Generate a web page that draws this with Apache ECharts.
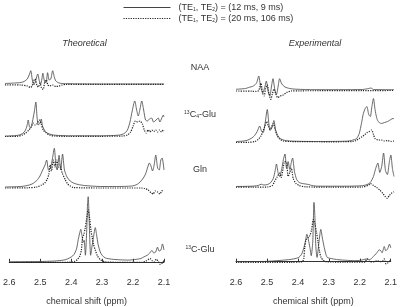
<!DOCTYPE html>
<html>
<head>
<meta charset="utf-8">
<script src="https://cdn.jsdelivr.net/npm/echarts@6/dist/echarts.min.js"></script>
<style>
  html, body { margin: 0; background: #fff; }
  #chart { width: 400px; height: 307px; }
</style>
</head>
<body>
<div id="chart"></div>
<script>
// series names (legend)
const shortName = 'short';
const longName = 'long';
const legendText = {
  short: '(TE{s|1}, TE{s|2}) = (12 ms, 9 ms)',
  long: '(TE{s|1}, TE{s|2}) = (20 ms, 106 ms)'
};
const panelTitles = ['Theoretical', 'Experimental'];
const rowLabels = ['NAA', '{sup|13}C{sub|4}-Glu', 'Gln', '{sup|13}C-Glu'];
const ppmRange = [2.1, 2.6];

// [ppm, intensity] (arbitrary units, baseline = 0)
const naaTheoShort = [[2.6,0.5],[2.57,1],[2.55,1.5],[2.54,2.5],[2.53,5],[2.524,9],[2.519,13.3],[2.514,4],[2.509,-1],[2.504,3],[2.497,10],[2.492,3],[2.488,0],[2.484,5],[2.481,10.7],[2.476,3],[2.471,1],[2.466,11.3],[2.461,4],[2.456,5],[2.45,13.3],[2.445,7],[2.44,3],[2.43,1],[2.41,0.3],[2.3,0],[2.1,0]];
const naaTheoLong = [[2.6,-0.8],[2.55,-1],[2.53,-2],[2.52,-3.5],[2.515,-2],[2.51,3],[2.505,5],[2.5,-1],[2.495,-3],[2.49,1],[2.485,-4],[2.48,-5.5],[2.475,2],[2.47,4],[2.465,-1],[2.46,-2],[2.45,-1],[2.44,-2.5],[2.43,-2],[2.42,-1],[2.41,-0.5],[2.3,-0.3],[2.1,-0.3]];
const naaExpShort = [[2.6,0.7],[2.57,1.5],[2.56,2.5],[2.545,4],[2.535,7],[2.528,14],[2.522,3],[2.515,-2.7],[2.508,4],[2.504,9],[2.498,-2],[2.493,-6],[2.488,3],[2.483,11.3],[2.477,0],[2.472,-4.3],[2.467,3],[2.462,11.3],[2.455,6],[2.445,3],[2.43,1.5],[2.41,0.8],[2.35,0.3],[2.2,0.5],[2.18,1.5],[2.173,2],[2.165,0.5],[2.1,0.3]];
const naaExpLong = [[2.6,-1],[2.55,-1.2],[2.535,-1.5],[2.528,-0.5],[2.521,6.7],[2.516,-3],[2.511,-6],[2.506,2],[2.501,5],[2.496,-3],[2.49,-9.3],[2.485,-4],[2.48,1],[2.475,-3],[2.468,-7.7],[2.46,-6],[2.452,-5.3],[2.44,-2.5],[2.425,-1],[2.4,-0.8],[2.2,-0.6],[2.1,-0.5]];

const glu4TheoShort = [[2.6,0],[2.57,0.3],[2.555,1],[2.545,2.5],[2.537,5],[2.531,10],[2.527,16],[2.523,9],[2.519,8],[2.514,14],[2.508,24],[2.503,34],[2.499,18],[2.495,11],[2.49,13],[2.486,17],[2.482,10],[2.476,6],[2.468,3],[2.455,1.5],[2.44,0.7],[2.4,0.3],[2.3,0.2],[2.26,0.5],[2.24,1],[2.225,2.5],[2.215,6],[2.207,14],[2.2,25],[2.192,35],[2.186,26],[2.181,20],[2.176,26],[2.17,35],[2.164,26],[2.158,16],[2.152,15],[2.146,17],[2.139,18],[2.133,14],[2.128,15],[2.122,17],[2.118,18],[2.113,14],[2.107,18],[2.102,21],[2.1,19]];
const glu4TheoLong = [[2.6,-0.5],[2.56,-0.3],[2.545,1],[2.535,3],[2.525,6],[2.518,9],[2.511,13],[2.505,11],[2.5,12],[2.492,16],[2.486,12],[2.48,6],[2.47,3],[2.46,1],[2.445,0],[2.4,-0.5],[2.3,-0.3],[2.23,0],[2.215,1],[2.205,4],[2.197,10],[2.19,15],[2.183,14],[2.176,15],[2.168,12],[2.162,6],[2.156,3],[2.15,6],[2.144,4],[2.138,6],[2.132,4.5],[2.126,6],[2.12,4],[2.114,6],[2.108,4],[2.102,6],[2.1,5]];
const glu4ExpShort = [[2.6,0],[2.575,0.5],[2.562,1.5],[2.55,3.5],[2.541,6],[2.533,10],[2.525,15.5],[2.519,10],[2.514,9],[2.508,18],[2.501,32],[2.496,18],[2.492,11],[2.486,14],[2.48,21],[2.475,12],[2.468,6],[2.46,3],[2.45,1.5],[2.43,0.5],[2.35,0],[2.25,0.3],[2.235,1],[2.225,2],[2.218,3],[2.21,8],[2.203,18],[2.197,28],[2.191,33],[2.186,35],[2.18,27],[2.175,25],[2.17,35],[2.165,43],[2.16,32],[2.155,24],[2.15,20],[2.14,18],[2.13,19],[2.12,20],[2.11,22],[2.103,23],[2.1,23]];
const glu4ExpLong = [[2.6,-1],[2.56,-0.8],[2.54,0],[2.53,2],[2.522,5],[2.515,10],[2.509,15],[2.503,20],[2.497,15],[2.492,12],[2.487,15],[2.482,18],[2.476,12],[2.47,6],[2.462,2.5],[2.45,0.5],[2.43,0],[2.3,-0.3],[2.23,0],[2.22,1],[2.21,3],[2.2,5],[2.192,7],[2.185,9],[2.178,10],[2.171,11.5],[2.165,7],[2.16,3],[2.15,1.5],[2.14,1.5],[2.13,0.5],[2.12,1],[2.11,0],[2.1,0.5]];

const glnTheoShort = [[2.6,0],[2.55,0.5],[2.53,1.5],[2.515,3],[2.5,6.5],[2.49,11],[2.483,16],[2.474,22],[2.469,27],[2.463,17],[2.457,19],[2.451,28],[2.445,38.7],[2.44,22],[2.436,17],[2.43,31.7],[2.425,17],[2.419,33],[2.413,17],[2.405,10],[2.395,6],[2.385,4],[2.37,2.5],[2.35,1.5],[2.3,0.5],[2.25,0.5],[2.2,1],[2.185,2.5],[2.175,5],[2.165,9],[2.158,13],[2.152,19],[2.146,24],[2.141,21],[2.136,16],[2.131,22],[2.126,32],[2.12,19],[2.115,17],[2.11,27],[2.106,29],[2.1,17]];
const glnTheoLong = [[2.6,-1],[2.53,-0.8],[2.5,0],[2.485,2],[2.475,4],[2.467,8],[2.462,13],[2.458,22],[2.454,16],[2.448,27],[2.443,20],[2.437,27],[2.432,20],[2.427,22],[2.42,14],[2.41,7],[2.403,3],[2.395,1],[2.385,-0.5],[2.3,-1],[2.17,-1],[2.16,-1.5],[2.15,-3],[2.14,-6],[2.134,-7],[2.128,-4],[2.12,-5],[2.113,-7],[2.107,-4],[2.1,-3]];
const glnExpShort = [[2.6,0],[2.55,0.3],[2.53,1],[2.52,2.3],[2.512,1.5],[2.5,2],[2.49,4],[2.482,8],[2.476,16],[2.472,22.5],[2.467,14],[2.462,10],[2.455,18],[2.45,27],[2.445,32.5],[2.44,18],[2.435,25],[2.43,17],[2.425,24],[2.421,28.5],[2.415,15],[2.408,7],[2.4,4],[2.39,3],[2.38,2.5],[2.37,2],[2.36,1],[2.34,0.3],[2.25,0.3],[2.2,0.8],[2.185,2],[2.175,4],[2.165,10],[2.158,18],[2.151,23.5],[2.145,14],[2.139,20],[2.133,33.5],[2.127,16],[2.121,12],[2.115,24],[2.11,31.5],[2.105,18],[2.1,10]];
const glnExpLong = [[2.6,-0.7],[2.55,-0.7],[2.5,-0.5],[2.485,1],[2.478,5],[2.471,9],[2.462,13.3],[2.457,9],[2.451,18],[2.446,25],[2.44,24],[2.435,10],[2.43,14],[2.425,18.3],[2.419,8],[2.41,3],[2.4,1],[2.38,-0.3],[2.3,-0.7],[2.2,-0.5],[2.18,1.5],[2.175,3],[2.165,1],[2.155,-1],[2.145,-3.5],[2.135,-7],[2.128,-10],[2.121,-11.8],[2.115,-9],[2.108,-6.8],[2.1,-5.2]];

const gluTheoShort = [[2.6,0],[2.5,0.3],[2.458,0.7],[2.43,1.5],[2.417,2.3],[2.405,4],[2.395,6],[2.388,9],[2.382,14],[2.377,23],[2.372,30],[2.369,33.3],[2.365,27],[2.361,20],[2.358,22],[2.354,6.7],[2.35,30],[2.347,60],[2.345,66.7],[2.343,55],[2.34,25],[2.337,6.7],[2.333,15],[2.328,25],[2.322,35],[2.318,28],[2.313,18],[2.306,10],[2.3,6.7],[2.29,4],[2.27,2.7],[2.24,2],[2.217,1.7],[2.19,2.5],[2.175,3.3],[2.165,5],[2.154,6.7],[2.146,9],[2.139,11.7],[2.133,9],[2.127,10],[2.121,15],[2.116,11],[2.11,12],[2.105,18.3],[2.1,12]];
const gluTheoLong = [[2.6,-0.7],[2.45,-0.7],[2.4,-0.3],[2.388,0.5],[2.38,2.3],[2.372,6],[2.367,12],[2.363,25],[2.359,28],[2.355,34],[2.35,44],[2.345,53.3],[2.34,44],[2.336,32],[2.332,25],[2.328,18],[2.322,12],[2.315,6],[2.305,2],[2.29,0],[2.25,-0.5],[2.17,-0.5],[2.16,0.5],[2.145,3.3],[2.138,1],[2.132,0],[2.125,2.7],[2.118,0],[2.112,-2.7],[2.105,-1],[2.1,1.5]];
const gluExpShort = [[2.6,0],[2.5,0.3],[2.43,2],[2.41,3],[2.397,4.3],[2.389,7],[2.382,12.7],[2.376,20],[2.371,27.7],[2.366,22],[2.361,14],[2.357,6],[2.352,20],[2.348,60],[2.345,45],[2.342,15],[2.338,4.3],[2.334,14],[2.33,25],[2.326,32.7],[2.321,24],[2.316,16],[2.31,8],[2.305,4.3],[2.29,3],[2.271,2],[2.24,1.3],[2.218,1],[2.195,1.5],[2.183,2.5],[2.176,2.7],[2.168,2],[2.16,4],[2.152,6.5],[2.144,9.3],[2.137,12],[2.132,11],[2.128,9],[2.121,15.3],[2.116,11],[2.11,13],[2.104,17.7],[2.1,14]];
const gluExpLong = [[2.6,-0.7],[2.42,-0.7],[2.39,-0.3],[2.385,0],[2.381,3],[2.378,14],[2.374,22],[2.368,24],[2.362,26],[2.356,32],[2.35,42.7],[2.345,38],[2.34,30],[2.335,20],[2.33,10],[2.325,4],[2.318,1.5],[2.31,0],[2.25,-0.5],[2.185,-0.5],[2.176,2.7],[2.168,0],[2.155,-0.3],[2.144,1],[2.135,0],[2.125,1],[2.121,2.7],[2.115,-2.3],[2.108,-1],[2.1,1.5]];

const panels = [
  [naaTheoShort, naaTheoLong], [naaExpShort, naaExpLong],
  [glu4TheoShort, glu4TheoLong], [glu4ExpShort, glu4ExpLong],
  [glnTheoShort, glnTheoLong], [glnExpShort, glnExpLong],
  [gluTheoShort, gluTheoLong], [gluExpShort, gluExpLong]
];

// layout: baseline pixel of each panel [left, right], columns in px
const baselines = [[84, 90], [136, 141.5], [187, 186.5], [263.5, 262.5]];
const cols = [{ left: 5, width: 159 }, { left: 236, width: 158 }];
const font = 'Liberation Sans';

const grids = [], xAxes = [], yAxes = [], series = [];
baselines.forEach((pair, r) => {
  pair.forEach((yb, c) => {
    const i = r * 2 + c;
    const last = r === 3;
    const above = last ? 70 : 40;
    const below = last ? 11.5 : 15;
    grids.push({ left: cols[c].left, width: cols[c].width, top: yb - above, height: above + below });
    xAxes.push({
      gridIndex: i, type: 'value', min: ppmRange[0], max: ppmRange[1], interval: 0.1, inverse: true,
      show: last,
      axisLine: { lineStyle: { color: '#333', width: 1 } },
      axisTick: { inside: true, length: 3, lineStyle: { color: '#333' } },
      axisLabel: { formatter: v => v.toFixed(1), color: '#333', fontSize: 9, fontFamily: font, margin: 5 },
      splitLine: { show: false },
      name: 'chemical shift (ppm)', nameLocation: 'middle', nameGap: 24,
      nameTextStyle: { color: '#333', fontSize: 9, fontFamily: font }
    });
    yAxes.push({ gridIndex: i, type: 'value', show: false, min: -below, max: above });
    series.push({
      name: shortName, type: 'line', xAxisIndex: i, yAxisIndex: i, data: panels[i][0],
      symbol: 'none', smooth: 0.25, clip: false, color: '#444',
      lineStyle: { color: '#444', width: 0.8 }
    });
    series.push({
      name: longName, type: 'line', xAxisIndex: i, yAxisIndex: i, data: panels[i][1],
      symbol: 'none', smooth: 0.25, clip: false, color: '#222',
      lineStyle: { color: '#222', width: 1.2, type: [1.2, 1.2] }
    });
  });
});

const rich = {
  sup: { fontSize: 5, fontFamily: font, color: '#333', verticalAlign: 'top', padding: [0, 0, 4, 0] },
  sub: { fontSize: 5, fontFamily: font, color: '#333', verticalAlign: 'bottom', padding: [4, 0, 0, 0] },
  s: { fontSize: 5, fontFamily: font, color: '#333', verticalAlign: 'bottom', padding: [4, 0, 0, 0] }
};

const labelY = [68, 115, 170, 250];
const graphic = [];
panelTitles.forEach((t, c) => {
  graphic.push({
    type: 'text', x: cols[c].left + cols[c].width / 2, y: 43,
    style: { text: t, fill: '#333', font: 'italic 9px "Liberation Sans"', align: 'center', verticalAlign: 'middle' }
  });
});
rowLabels.forEach((t, r) => {
  graphic.push({
    type: 'text', x: 200, y: labelY[r],
    style: { text: t, fill: '#333', fontSize: 9, fontFamily: font, align: 'center', verticalAlign: 'middle', rich: rich }
  });
});

const chart = echarts.init(document.getElementById('chart'));
chart.setOption({
  animation: false,
  backgroundColor: '#fff',
  legend: {
    data: [shortName, longName],
    orient: 'vertical', left: 118, top: -2,
    itemWidth: 47, itemHeight: 8, itemGap: 2,
    itemStyle: { opacity: 0 },
    lineStyle: { width: 1 },
    formatter: n => legendText[n],
    textStyle: { color: '#333', fontSize: 9, fontFamily: font, padding: [0, 0, 0, 3], rich: rich }
  },
  grid: grids,
  xAxis: xAxes,
  yAxis: yAxes,
  series: series,
  graphic: graphic
});
</script>
</body>
</html>
